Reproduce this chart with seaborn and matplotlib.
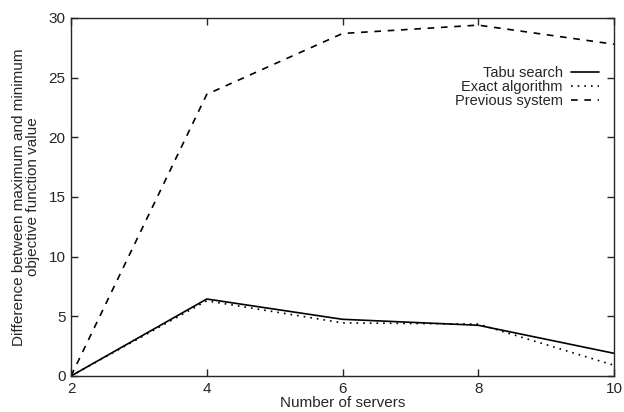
import seaborn as sns
import matplotlib.pyplot as plt
import pandas as pd

servers = [2, 4, 6, 8, 10]
tabu_search = [0.0, 6.45, 4.75, 4.25, 1.9]
exact_algorithm = [0.0, 6.3, 4.45, 4.35, 0.9]
previous_system = [0.0, 23.6, 28.7, 29.4, 27.8]

series = {
    "Tabu search": (tabu_search, "-"),
    "Exact algorithm": (exact_algorithm, (0, (1, 3))),
    "Previous system": (previous_system, (0, (4, 4))),
}

sns.set_style("ticks")
plt.rcParams["font.family"] = ["Liberation Sans", "DejaVu Sans"]

fig = plt.figure(figsize=(6.24, 4.12), dpi=100)
ax = fig.add_axes([0.1138, 0.0874, 0.8702, 0.8690])

for name, (values, ls) in series.items():
    df = pd.DataFrame({"servers": servers, "value": values})
    sns.lineplot(data=df, x="servers", y="value", ax=ax, color="black",
                 linestyle=ls, linewidth=1.2, label=name)

ax.set_xlim(2, 10)
ax.set_ylim(0, 30)
ax.set_xticks(servers)
ax.set_yticks(range(0, 31, 5))
ax.tick_params(direction="in", top=True, right=True, length=5, width=1,
               labelsize=11, pad=4)
for s in ax.spines.values():
    s.set_linewidth(1)
ax.set_xlabel("Number of servers", fontsize=11, labelpad=0)
ax.set_ylabel("Difference between maximum and minimum\nobjective function value",
              fontsize=11, labelpad=6, linespacing=1.0)

leg = ax.legend(loc="upper right", bbox_to_anchor=(0.986, 0.885), frameon=False,
                markerfirst=False, fontsize=10.5, handlelength=1.9,
                labelspacing=0.0, handletextpad=0.6, borderpad=0)
for t in leg.get_texts():
    t.set_ha("right")

fig.savefig("out.png", dpi=100)
